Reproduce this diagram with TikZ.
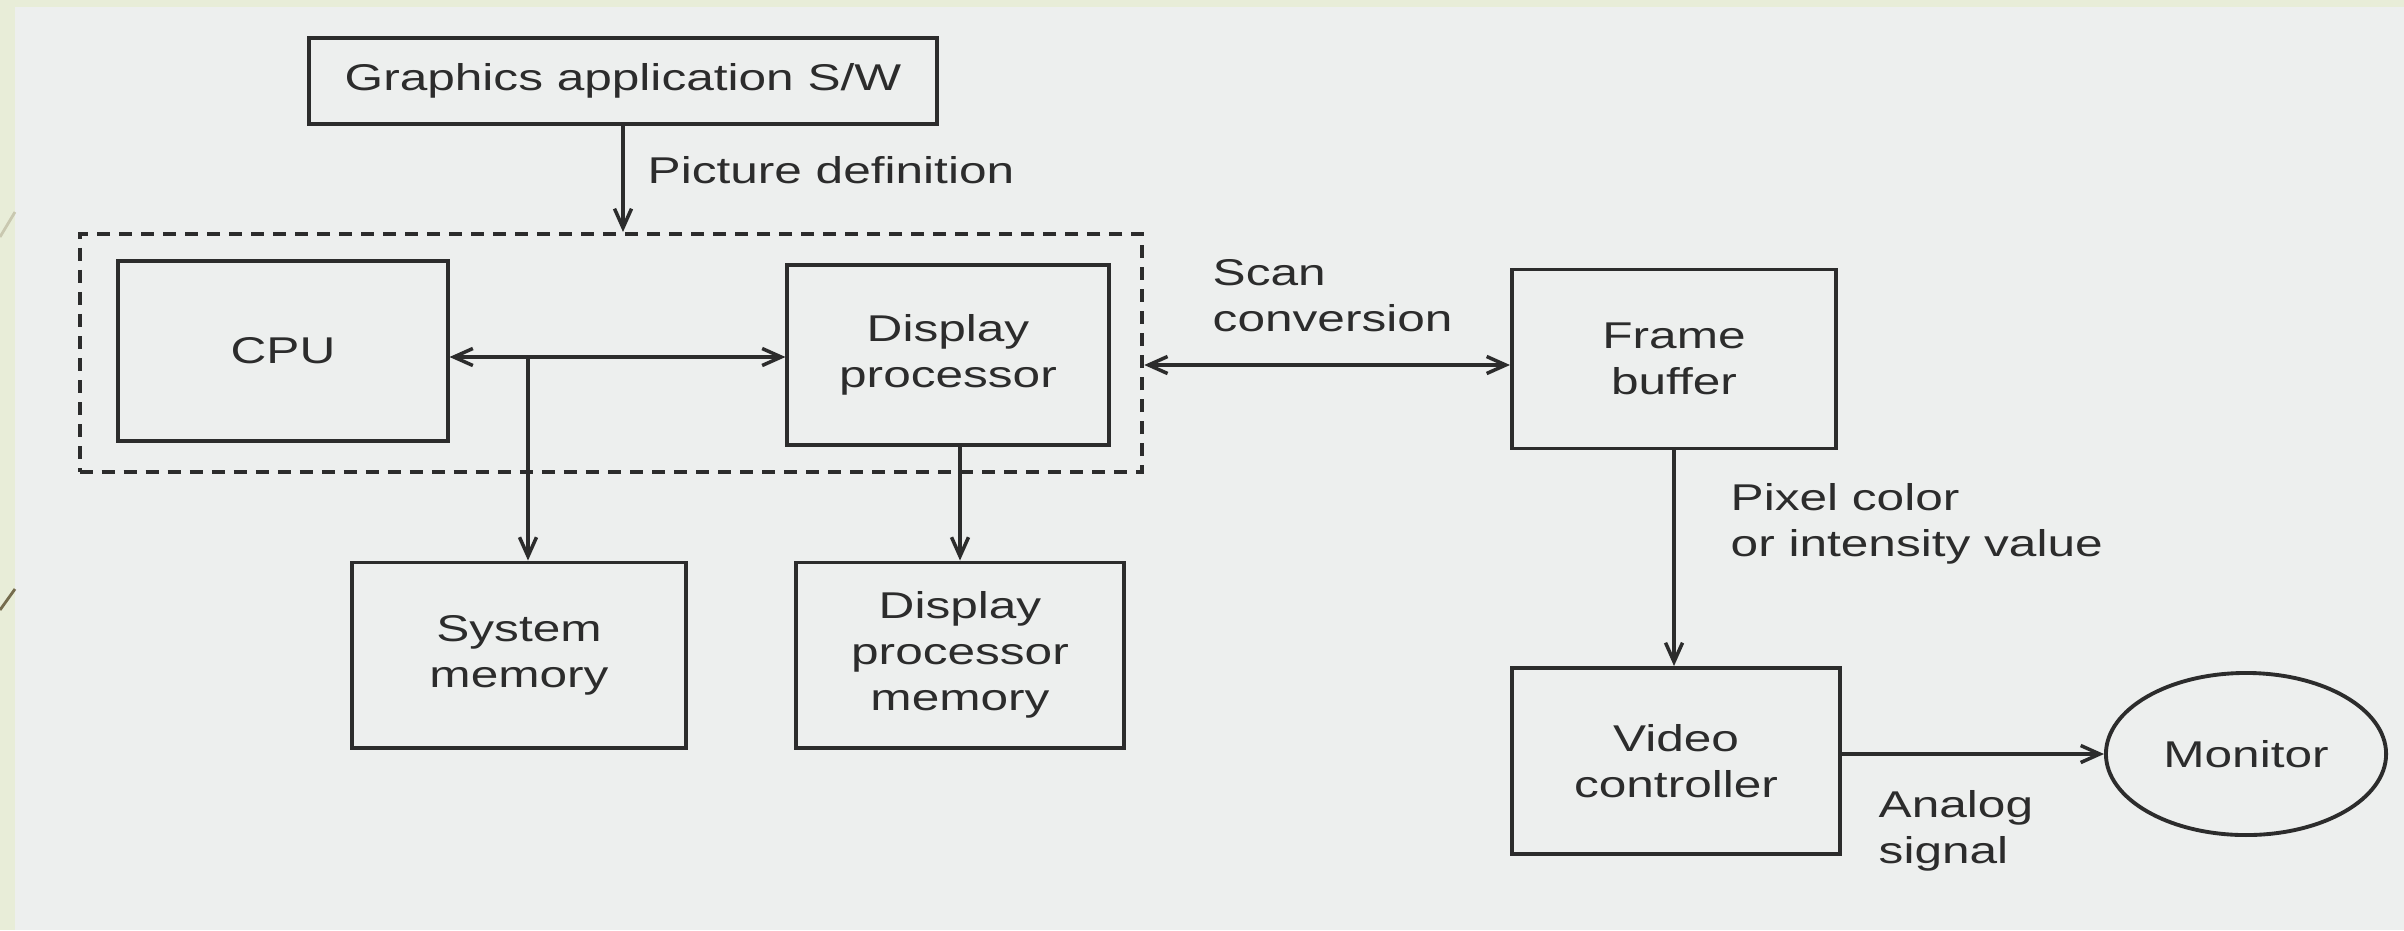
\documentclass[tikz,border=0pt]{standalone}
\usepackage{fontspec}
\newfontfamily\lab{Liberation Sans}[FakeStretch=1.33]
\usetikzlibrary{arrows.meta,shapes.geometric}
\definecolor{bg}{HTML}{EDEFEE}
\definecolor{strip}{HTML}{E8EDD8}
\definecolor{ink}{HTML}{2C2C2C}
\definecolor{deco1}{HTML}{C9C8B0}
\definecolor{deco2}{HTML}{756C4E}
\begin{document}
\begin{tikzpicture}[x=0.01cm,y=-0.01cm,
  txt/.style={font=\lab\fontsize{10.6pt}{13.1pt}\selectfont, text=ink},
  box/.style={txt, draw=ink, line width=1.1pt, rectangle, align=center, inner sep=0pt},
  lbl/.style={txt, align=left, inner sep=0pt, anchor=west},
  dashbox/.style={draw=ink, line width=1.1pt, dash pattern=on 0.13cm off 0.09cm, rectangle, inner sep=0pt},
  arr/.style={draw=ink, line width=1pt, -{Straight Barb[length=0.19cm,width=0.17cm]}},
  darr/.style={draw=ink, line width=1pt, {Straight Barb[length=0.19cm,width=0.17cm]}-{Straight Barb[length=0.19cm,width=0.17cm]}}
]
\useasboundingbox (0,0) rectangle (2404,930);
\fill[strip] (0,0) rectangle (2404,930);
\fill[bg] (15,7) rectangle (2404,930);
\draw[deco1, line width=0.8pt] (0,237) -- (15,212);
\draw[deco2, line width=0.8pt] (0,610) -- (15,589);

% nodes
\node[box, minimum width=6.28cm, minimum height=0.86cm] (gfx) at (623,81) {Graphics application S/W};
\node[dashbox, minimum width=10.62cm, minimum height=2.38cm] (dash) at (611,353) {};
\node[box, minimum width=3.29cm, minimum height=1.80cm] (cpu) at (283,351) {CPU};
\node[box, minimum width=3.21cm, minimum height=1.80cm] (dp) at (948,355) {Display\\processor};
\node[box, minimum width=3.34cm, minimum height=1.85cm] (sm) at (519,655) {System\\memory};
\node[box, minimum width=3.27cm, minimum height=1.85cm] (dpm) at (960,655) {Display\\processor\\memory};
\node[box, minimum width=3.24cm, minimum height=1.79cm] (fb) at (1674,359) {Frame\\buffer};
\node[box, minimum width=3.28cm, minimum height=1.86cm] (vc) at (1676,761) {Video\\controller};
\node[ellipse, draw=ink, line width=1.1pt, txt, minimum width=2.80cm, minimum height=1.62cm, inner sep=0pt] (mon) at (2246,754) {Monitor};

% labels
\node[lbl] (pdl) at (647,170) {Picture definition};
\node[lbl] (scl) at (1212,296) {Scan\\conversion};
\node[lbl] (pxl) at (1730,524) {Pixel color\\or intensity value};
\node[lbl] (anl) at (1878,831) {Analog\\signal};

% connectors
\coordinate (bus) at (528,357);
\coordinate (scan) at (0,365);
\draw[arr] (gfx.south) -- (gfx.south |- dash.north);
\draw[darr] (bus -| cpu.east) -- (bus -| dp.west);
\draw[arr] (bus) -- (bus |- sm.north);
\draw[arr] (dp.south -| dpm.north) -- (dpm.north);
\draw[darr] (scan -| dash.east) -- (scan -| fb.west);
\draw[arr] (fb.south) -- (fb.south |- vc.north);
\draw[arr] (mon.west -| vc.east) -- (mon.west);
\end{tikzpicture}
\end{document}
